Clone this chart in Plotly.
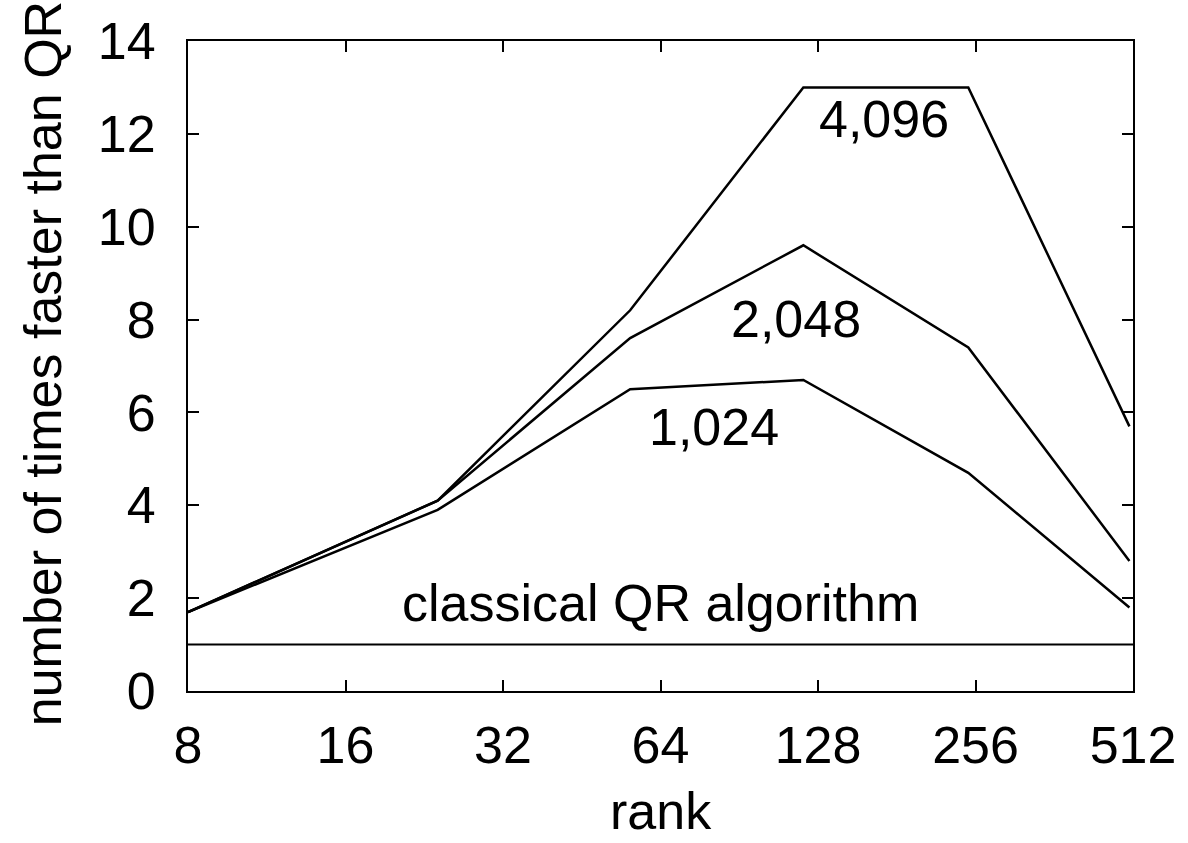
import plotly.graph_objects as go
import math

rank = [8, 24, 56, 120, 248, 504]
speedup_4096 = [1.7, 4.1, 8.2, 13.0, 13.0, 5.7]
speedup_2048 = [1.7, 4.1, 7.6, 9.6, 7.4, 2.8]
speedup_1024 = [1.7, 3.9, 6.5, 6.7, 4.7, 1.8]
qr_rank = [8, 512]
qr_speedup = [1, 1]

x_ticks = [8, 16, 32, 64, 128, 256, 512]
y_ticks = [0, 2, 4, 6, 8, 10, 12, 14]

labels = [
    ("4,096", 171, 12.33),
    ("2,048", 116, 8.01),
    ("1,024", 81, 5.69),
    ("classical QR algorithm", 64, 1.89),
]

FONT = "Liberation Sans, Arial, sans-serif"
FS = 52

fig = go.Figure()
line = dict(color="black", width=2.5)
for ys in (speedup_4096, speedup_2048, speedup_1024):
    fig.add_trace(go.Scatter(x=rank, y=ys, mode="lines", line=line, showlegend=False))
fig.add_trace(go.Scatter(x=qr_rank, y=qr_speedup, mode="lines",
                         line=dict(color="black", width=2), showlegend=False))

for txt, x, y in labels:
    fig.add_annotation(text=txt, x=math.log10(x), y=y, xref="x", yref="y",
                       showarrow=False, font=dict(family=FONT, size=FS, color="black"))

fig.add_annotation(text="rank", x=0.5, y=-0.232, xref="paper", yref="paper",
                   showarrow=False, font=dict(family=FONT, size=FS, color="black"))
fig.add_annotation(text="number of times faster than QR", x=-0.186, y=0.503,
                   xref="paper", yref="paper", textangle=-90, showarrow=False,
                   font=dict(family=FONT, size=FS, color="black"))

axis_common = dict(showgrid=False, zeroline=False, showline=True, linecolor="black",
                   linewidth=2, mirror="ticks", ticks="inside", ticklen=11,
                   tickwidth=2, tickcolor="black",
                   tickfont=dict(family=FONT, size=FS, color="black"))

fig.update_xaxes(type="log", range=[math.log10(8), math.log10(512)],
                 tickvals=x_ticks, ticktext=[str(v) for v in x_ticks],
                 ticklabelstandoff=8, **axis_common)
fig.update_yaxes(range=[0, 14], tickvals=y_ticks, ticklabelstandoff=20, **axis_common)

fig.update_layout(width=1188, height=843, margin=dict(l=188, r=49, t=40, b=151.5),
                  plot_bgcolor="white", paper_bgcolor="white",
                  font=dict(family=FONT, size=FS, color="black"))

fig.write_html("out.html")
